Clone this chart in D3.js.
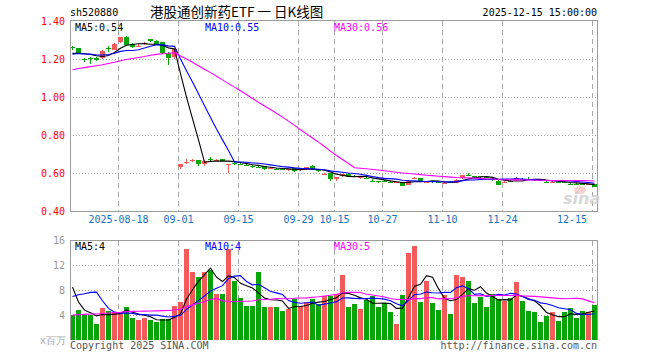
<!DOCTYPE html>
<html><head><meta charset="utf-8">
<script src="https://cdn.jsdelivr.net/npm/d3@7"></script>
<style>body{margin:0;background:#fff}svg{display:block}text{font-family:"DejaVu Sans Mono",monospace;font-size:10px}</style>
</head><body><svg id="c" width="660" height="360"></svg>
<script>
const dates = ["2025-08-06","2025-08-07","2025-08-08","2025-08-11","2025-08-12","2025-08-13","2025-08-14","2025-08-15","2025-08-18","2025-08-19","2025-08-20","2025-08-21","2025-08-22","2025-08-25","2025-08-26","2025-08-27","2025-08-28","2025-08-29",
"2025-09-01","2025-09-02","2025-09-03","2025-09-04","2025-09-05","2025-09-08","2025-09-09","2025-09-10","2025-09-11","2025-09-12","2025-09-15","2025-09-16","2025-09-17","2025-09-18","2025-09-19","2025-09-22","2025-09-23","2025-09-24","2025-09-25","2025-09-26","2025-09-29","2025-09-30",
"2025-10-09","2025-10-10","2025-10-13","2025-10-14","2025-10-15","2025-10-16","2025-10-17","2025-10-20","2025-10-21","2025-10-22","2025-10-23","2025-10-24","2025-10-27","2025-10-28","2025-10-29","2025-10-30","2025-10-31",
"2025-11-03","2025-11-04","2025-11-05","2025-11-06","2025-11-07","2025-11-10","2025-11-11","2025-11-12","2025-11-13","2025-11-14","2025-11-17","2025-11-18","2025-11-19","2025-11-20","2025-11-21","2025-11-24","2025-11-25","2025-11-26","2025-11-27","2025-11-28",
"2025-12-01","2025-12-02","2025-12-03","2025-12-04","2025-12-05","2025-12-08","2025-12-09","2025-12-10","2025-12-11","2025-12-12","2025-12-15"];
const openP = [1.262,1.256,1.202,1.205,1.207,1.204,1.258,1.247,1.288,1.317,1.279,1.268,1.281,1.304,1.295,1.288,1.232,1.212,
0.633,0.658,0.665,0.668,0.645,0.673,0.667,0.674,0.645,0.652,0.648,0.643,0.635,0.634,0.635,0.624,0.623,0.622,0.617,0.625,0.617,0.620,
0.637,0.615,0.592,0.598,0.567,0.584,0.595,0.586,0.575,0.574,0.560,0.556,0.560,0.553,0.549,0.549,0.539,
0.570,0.572,0.553,0.556,0.553,0.545,0.553,0.549,0.572,0.592,0.584,0.582,0.578,0.568,0.560,0.551,0.560,0.563,0.571,0.571,
0.567,0.562,0.555,0.553,0.555,0.551,0.544,0.544,0.543,0.539,0.542];
const highP = [1.270,1.260,1.207,1.210,1.210,1.245,1.270,1.282,1.318,1.320,1.285,1.278,1.290,1.306,1.300,1.290,1.235,1.260,
0.650,0.672,0.672,0.670,0.666,0.683,0.673,0.676,0.647,0.656,0.652,0.647,0.640,0.638,0.638,0.630,0.626,0.625,0.623,0.628,0.622,0.633,
0.640,0.618,0.598,0.600,0.580,0.596,0.598,0.590,0.582,0.578,0.566,0.560,0.562,0.557,0.555,0.551,0.562,
0.578,0.575,0.558,0.560,0.556,0.552,0.556,0.566,0.592,0.598,0.586,0.585,0.580,0.572,0.562,0.556,0.562,0.577,0.576,0.577,
0.569,0.564,0.558,0.558,0.557,0.553,0.548,0.547,0.546,0.544,0.544];
const lowP = [1.250,1.225,1.184,1.175,1.190,1.200,1.235,1.245,1.285,1.270,1.258,1.262,1.275,1.292,1.272,1.228,1.170,1.200,
0.620,0.645,0.660,0.637,0.637,0.660,0.663,0.662,0.600,0.642,0.640,0.635,0.628,0.625,0.618,0.620,0.615,0.614,0.612,0.605,0.612,0.618,
0.618,0.605,0.588,0.560,0.560,0.580,0.578,0.578,0.570,0.566,0.552,0.548,0.552,0.546,0.545,0.532,0.536,
0.566,0.553,0.548,0.548,0.546,0.540,0.546,0.546,0.570,0.583,0.572,0.575,0.572,0.560,0.535,0.545,0.554,0.560,0.566,0.565,
0.557,0.556,0.548,0.550,0.550,0.545,0.537,0.537,0.536,0.535,0.525];
const closeP = [1.258,1.230,1.199,1.202,1.195,1.240,1.254,1.279,1.314,1.274,1.262,1.271,1.284,1.296,1.276,1.232,1.205,1.252,
0.647,0.660,0.667,0.646,0.663,0.671,0.669,0.664,0.646,0.650,0.646,0.641,0.632,0.631,0.621,0.627,0.620,0.620,0.620,0.610,0.619,0.630,
0.621,0.612,0.594,0.567,0.577,0.593,0.580,0.584,0.577,0.572,0.558,0.554,0.557,0.551,0.551,0.535,0.560,
0.572,0.556,0.555,0.554,0.551,0.547,0.551,0.563,0.589,0.590,0.574,0.580,0.575,0.566,0.539,0.553,0.558,0.574,0.570,0.569,
0.560,0.560,0.553,0.555,0.553,0.549,0.542,0.542,0.541,0.541,0.528];
const volume = [4.1,4.8,4.0,4.0,2.56,5.2,4.64,4.43,4.4,5.28,3.52,3.2,3.52,3.2,2.88,3.3,3.3,5.44,
6.08,14.7,10.88,10.08,10.88,11.3,7.36,7.36,14.7,9.44,6.72,5.44,5.44,10.88,5.28,5.28,5.28,4.64,4.96,6.56,5.44,6.08,
6.56,5.8,7.1,7.1,7.47,10.4,5.28,5.76,4.96,6.4,7.09,5.28,6.03,4.48,2.56,7.2,13.92,
15.04,6.08,9.44,5.92,4.8,7.2,4.16,10.4,10.08,9.44,5.92,6.99,5.28,7.36,6.56,6.24,6.77,9.28,6.24,4.64,
4.48,2.88,3.89,4.48,3.04,4.48,5.12,3.52,4.64,4.48,5.6];
// closes and volumes of the 29 sessions before the first shown day (feed the moving averages)
const earlierCloses = [1.04,1.05,1.04,1.06,1.07,1.06,1.08,1.09,1.08,1.10,1.11,1.12,1.11,1.13,1.14,1.13,1.15,1.16,1.15,1.17,
1.20,1.22,1.21,1.24,1.24,1.23,1.21,1.22,1.23];
const earlierVolumes = [2.4,2.8,2.2,2.6,3.0,2.3,2.5,2.7,2.1,2.4,2.6,2.9,2.2,2.5,2.3,2.8,2.6,2.4,2.5,2.4,
2.0,2.3,1.9,2.2,19.1,16.8,10.5,6.0,5.1];
const priceTicks = [0.40,0.60,0.80,1.00,1.20,1.40];
const volTicks = [4,8,12,16];
const dateTicks = ["2025-08-18","2025-09-01","2025-09-15","2025-09-29","2025-10-15","2025-10-27","2025-11-10","2025-11-24","2025-12-15"];
const dateTickLabels = ["2025-08-18","09-01","09-15","09-29","10-15","10-27","11-10","11-24","12-15"];
const maPeriods = [5,10,30];
const maColors = ["#000000","#0000ff","#ff00ff"];

const RED="#f45a5a", GREEN="#06a406", GRID="#a8a8a8", BORDER="#9c9c9c";
const svg = d3.select("#c");
const L=70, R=597.5, PT=20.5, PB=211, VT=240.5, VB=340;
const x = d3.scaleBand().domain(dates).range([70, 70+dates.length*6]);
const yP = d3.scaleLinear().domain([0.4,1.4]).range([PB,PT+0.5]);
const yV = d3.scaleLinear().domain([0,16]).range([VB,VT]);

function movingAvg(all, prior, n){
  return dates.map((d,i)=>{const end=i+prior; return d3.mean(all.slice(end-n+1,end+1));});
}
const allC = earlierCloses.concat(closeP), allV = earlierVolumes.concat(volume);
const priceMA = maPeriods.map(n=>movingAvg(allC, earlierCloses.length, n));
const volMA = maPeriods.map(n=>movingAvg(allV, earlierVolumes.length, n));

// grids
const g = svg.append("g").attr("shape-rendering","crispEdges");
[[PT,PB],[VT,VB]].forEach(([t,b])=>{
  g.selectAll(null).data(dateTicks).join("line")
    .attr("x1",d=>Math.round(x(d))+0.5).attr("x2",d=>Math.round(x(d))+0.5)
    .attr("y1",t).attr("y2",b).attr("stroke",GRID).attr("stroke-dasharray","5,4");
});
g.selectAll(null).data(priceTicks.filter(v=>v>0.4&&v<1.4)).join("line")
  .attr("x1",L).attr("x2",R).attr("y1",d=>Math.round(yP(d))+0.5).attr("y2",d=>Math.round(yP(d))+0.5)
  .attr("stroke",GRID).attr("stroke-dasharray","1,2");
g.selectAll(null).data(volTicks.filter(v=>v<16)).join("line")
  .attr("x1",L).attr("x2",R).attr("y1",d=>Math.round(yV(d))+0.5).attr("y2",d=>Math.round(yV(d))+0.5)
  .attr("stroke",GRID).attr("stroke-dasharray","1,2");

// candles
const up = i=>closeP[i]>=openP[i];
const cg = svg.append("g").attr("shape-rendering","crispEdges");
const idx = d3.range(dates.length);
cg.selectAll(".w").data(idx).join("line")
  .attr("x1",i=>x(dates[i])+2.5).attr("x2",i=>x(dates[i])+2.5)
  .attr("y1",i=>yP(highP[i])).attr("y2",i=>yP(lowP[i]))
  .attr("stroke",i=>up(i)?RED:GREEN);
cg.selectAll(".b").data(idx).join("rect")
  .attr("x",i=>x(dates[i])).attr("width",5)
  .attr("y",i=>Math.round(yP(Math.max(openP[i],closeP[i]))))
  .attr("height",i=>Math.max(1,Math.round(Math.abs(yP(openP[i])-yP(closeP[i])))))
  .attr("fill",i=>up(i)?RED:GREEN);

// volume bars
cg.selectAll(".v").data(idx).join("rect")
  .attr("x",i=>x(dates[i])).attr("width",5)
  .attr("y",i=>yV(volume[i])).attr("height",i=>VB-yV(volume[i]))
  .attr("fill",i=>up(i)?RED:GREEN);

// MA lines
svg.append("clipPath").attr("id","cp").append("rect").attr("x",L).attr("y",PT).attr("width",R-L).attr("height",PB-PT);
const lineP = d3.line().x((v,i)=>x(dates[i])+2.5).y(v=>yP(v));
const lineV = d3.line().x((v,i)=>x(dates[i])+2.5).y(v=>yV(v));
priceMA.forEach((arr,k)=>svg.append("path").attr("d",lineP(arr)).attr("fill","none").attr("stroke",maColors[k]).attr("stroke-width",1.1).attr("clip-path","url(#cp)"));
volMA.forEach((arr,k)=>svg.append("path").attr("d",lineV(arr)).attr("fill","none").attr("stroke",maColors[k]).attr("stroke-width",1.1));

// borders
const bd = svg.append("g").attr("shape-rendering","crispEdges").attr("fill","none").attr("stroke",BORDER);
bd.append("path").attr("d",`M${L},${PB}V${PT}H${R}V${PB}H${L}`);
bd.append("path").attr("d",`M${L},${VB}V${VT}H${R}V${VB}`);

// labels
svg.append("text").attr("x",70).attr("y",16).attr("fill","#000").text("sh520880");
svg.append("text").attr("x",150).attr("y",17).attr("fill","#000").style("font-family","'Noto Sans CJK SC',sans-serif").style("font-size","13.5px").text("港股通创新药ETF 一 日K线图");
svg.append("text").attr("x",597).attr("y",16).attr("text-anchor","end").attr("fill","#000").text("2025-12-15 15:00:00");
const maX=[75,205,334];
maPeriods.forEach((n,k)=>{
  svg.append("text").attr("x",maX[k]).attr("y",31).attr("fill",maColors[k]).text(`MA${n}:${priceMA[k][priceMA[k].length-1].toFixed(2)}`);
  svg.append("text").attr("x",maX[k]).attr("y",250).attr("fill",maColors[k]).text(`MA${n}:${Math.floor(volMA[k][volMA[k].length-1])}`);
});
svg.selectAll(".pt").data(priceTicks).join("text").attr("x",65).attr("y",d=>yP(d)).attr("dy","0.35em")
  .attr("text-anchor","end").attr("fill","#ff0000").text(d=>d.toFixed(2));
svg.selectAll(".vt").data(volTicks).join("text").attr("x",65).attr("y",d=>yV(d)).attr("dy","0.35em")
  .attr("text-anchor","end").attr("fill","#999").text(d=>d);
svg.append("text").attr("x",66).attr("y",344).attr("text-anchor","end").attr("fill","#aaa").text("x百万");
svg.selectAll(".dt").data(dateTicks).join("text")
  .attr("x",(d,i)=>i===dateTicks.length-1?x(d)-5:x(d)+0.5).attr("y",223)
  .attr("text-anchor",(d,i)=>i===dateTicks.length-1?"end":"middle")
  .attr("fill","#1570c0").text((d,i)=>dateTickLabels[i]);
svg.append("text").attr("x",70).attr("y",349).attr("fill","#555").text("Copyright 2025 SINA.COM");
svg.append("text").attr("x",597).attr("y",349).attr("text-anchor","end").attr("fill","#555").text("http://finance.sina.com.cn");
// watermark
svg.append("ellipse").attr("cx",580).attr("cy",190).attr("rx",6).attr("ry",4).attr("fill","#f2b0b0").attr("opacity",0.6);
svg.append("text").attr("x",563).attr("y",204).attr("fill","#d0d0d0").style("font-family","'DejaVu Sans',sans-serif").style("font-size","16px").style("font-style","italic").style("font-weight","bold").attr("opacity",0.8).text("sina");
</script></body></html>
